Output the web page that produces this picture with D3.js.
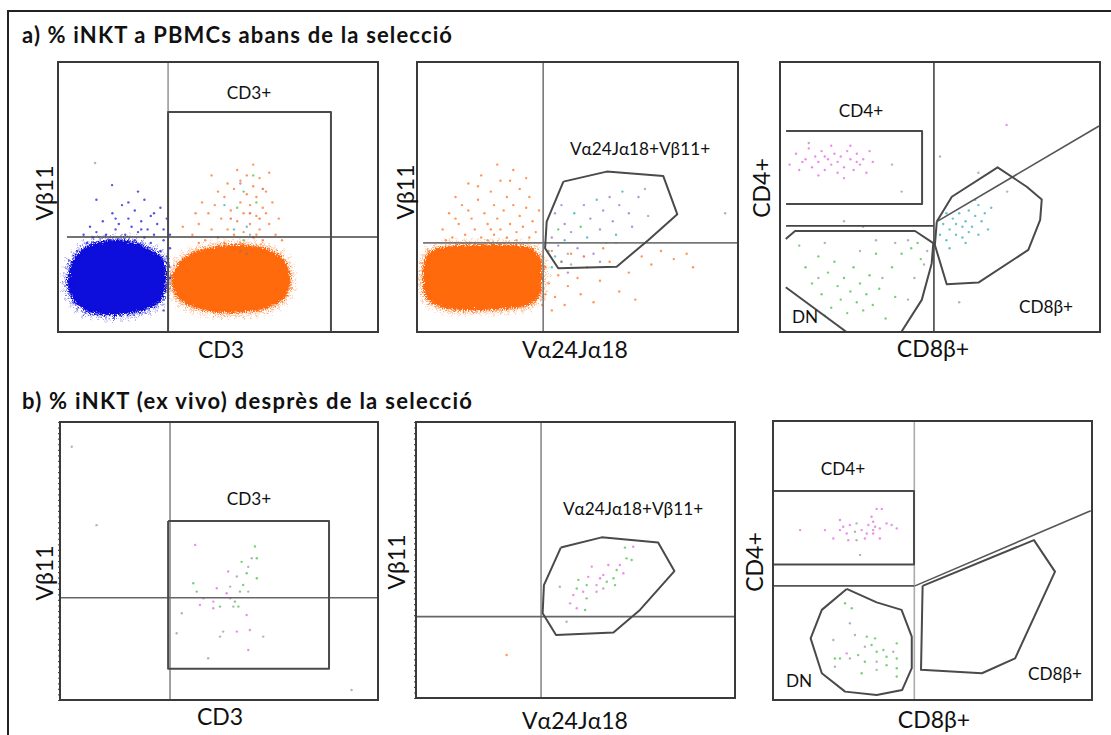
<!DOCTYPE html>
<html><head><meta charset="utf-8">
<script src="https://cdn.jsdelivr.net/npm/d3@7"></script>
<style>body{margin:0;background:#fff}svg{display:block}</style>
</head><body>
<svg id="fig" width="1111" height="735"></svg>
<script>
// ---- Section titles and axis labels ----
const sectionTitles = ["a) % iNKT a PBMCs abans de la selecció", "b) % iNKT (ex vivo) desprès de la selecció"];
const xLabels = ["CD3", "Vα24Jα18", "CD8β+"];
const yLabels = ["Vβ11", "Vβ11", "CD4+"];
const gateNames = ["CD3+", "Vα24Jα18+Vβ11+", "CD4+", "DN", "CD8β+"];

// Population colour keys: b blue, o orange, g green, r red, t teal, p purple, k grey, m magenta
const popKeys = ["b", "o", "g", "r", "t", "p", "k", "m"];
const popColors = ["#0b0bdc", "#ff6a10", "#3dbb3d", "#e0402a", "#2aa7b8", "#8a6cc8", "#777777", "#e35ee0"];

// All coordinates below are in channel units 0–100 on both axes.

// ---- a1: CD3 vs Vβ11 (PBMC) ----
const a1Lines = [[[34.4, 0], [34.4, 100]], [[2.8, 35.2], [100, 35.2]]];
const a1Gates = [[[34.4, 0], [34.4, 81.5], [85.3, 81.5], [85.3, 0]]];
const a1BlueCore = [[3.1,17.4],[4.4,25.9],[8.4,31.1],[13.1,33.3],[18.8,34.1],[24.1,33.0],[28.8,30.4],[32.5,27.4],[33.8,22.2],[33.4,15.6],[31.3,10.7],[25.6,7.8],[17.8,6.3],[10.0,7.4],[5.3,11.1]];
const a1OrangeCore = [[35.6,20.0],[38.1,25.9],[42.8,29.6],[49.1,31.5],[56.9,32.2],[63.8,31.1],[69.4,28.1],[71.9,23.7],[72.5,18.5],[70.9,13.0],[66.3,9.3],[58.4,7.4],[49.1,7.4],[41.3,9.6],[36.9,13.7]];
const a1Events = [
  [8,36,"b"],[10,39,"b"],[12,37,"b"],[14,41,"b"],[15,36,"b"],[17,44,"b"],[18,38,"b"],[19,40,"b"],[20,47,"b"],[21,36,"b"],
  [22,42,"b"],[23,39,"b"],[24,45,"b"],[25,37,"b"],[26,41,"b"],[27,49,"b"],[28,38,"b"],[29,43,"b"],[30,36,"b"],[31,40,"b"],
  [32,46,"b"],[33,38,"b"],[34,42,"b"],[16,34,"b"],[24,34,"b"],[29,33,"b"],[13,33,"b"],[9,33,"b"],[33,34,"b"],[20,33,"b"],
  [26,38,"b"],[18,42,"b"],[22,48,"b"],[11,35,"b"],[30,44,"b"],[27,35,"b"],[35,36,"b"],[35,31,"b"],[34.5,25,"b"],[35,20,"b"],
  [6,30,"b"],[34,28,"b"],[12,49,"b"],[25,52,"b"],[16.9,54.4,"b"],[11.6,62.6,"k"],[33,12,"b"],[34,17,"b"],[32,30,"b"],[33,8,"b"],
  [42,36,"o"],[44,40,"o"],[46,34,"o"],[47,44,"o"],[48,38,"o"],[49,47,"o"],[50,35,"o"],[51,42,"o"],[52,50,"o"],[53,38,"o"],
  [54,45,"o"],[55,36,"o"],[55,53,"o"],[56,41,"o"],[57,48,"o"],[57,56,"o"],[58,37,"o"],[58,44,"o"],[59,51,"o"],[59,58,"o"],
  [60,40,"o"],[60,47,"o"],[61,35,"o"],[61,54,"o"],[62,43,"o"],[62,50,"o"],[63,38,"o"],[63,57,"o"],[64,46,"o"],[64,34,"o"],
  [65,52,"o"],[66,40,"o"],[66,59,"o"],[67,48,"o"],[68,36,"o"],[53,55,"o"],[50,52,"o"],[45,48,"o"],[43,44,"o"],[56,60,"o"],
  [61,62,"o"],[48,58,"o"],[65,44,"o"],[69,42,"o"],[44,33,"o"],[39,39,"o"],[62,36,"o"],[57,33,"o"],[52,33,"o"],[70,34,"o"],
  [56,46,"g"],[58,52,"g"],[60,44,"r"],[59,39,"t"],[62,48,"g"],[54,42,"r"],[57,55,"p"],[61,58,"g"],[55,38,"t"],[63,42,"r"],
  [58,34,"g"],[60,36,"k"],[52,47,"t"],[64,53,"r"],[57,30,"k"],[59,29,"k"]
];

// ---- a2: Vα24Jα18 vs Vβ11 (PBMC) ----
const a2Lines = [[[39.3, 0], [39.3, 100]], [[1.9, 33.0], [100, 33.0]]];
const a2Gates = [[[45.6,55.7],[59.1,59.4],[76.7,57.8],[81.1,43.6],[72.1,34.1],[62.2,24.2],[44.0,23.6],[39.9,31.0],[40.4,40.9],[45.6,55.7]]];
const a2OrangeCore = [[2.2,24.8],[4.0,29.6],[8.7,31.5],[18.1,32.2],[29.0,32.2],[35.2,31.1],[38.3,27.4],[38.9,19.3],[37.7,12.6],[33.6,9.6],[25.9,8.5],[16.5,8.1],[8.7,8.9],[3.4,11.9],[1.9,17.4]];
const a2Events = [
  [8,38,"o"],[10,44,"o"],[11,35,"o"],[12,50,"o"],[13,40,"o"],[14,47,"o"],[15,36,"o"],[16,55,"o"],[17,42,"o"],[18,38,"o"],
  [19,49,"o"],[20,35,"o"],[20,58,"o"],[21,44,"o"],[22,40,"o"],[23,52,"o"],[24,36,"o"],[24,47,"o"],[25,42,"o"],[26,56,"o"],
  [26,38,"o"],[27,45,"o"],[28,50,"o"],[28,35,"o"],[29,40,"o"],[30,47,"o"],[30,60,"o"],[31,37,"o"],[32,43,"o"],[32,53,"o"],
  [33,39,"o"],[34,46,"o"],[35,35,"o"],[35,50,"o"],[36,41,"o"],[37,37,"o"],[22,34,"o"],[18,33,"o"],[14,33,"o"],[27,33,"o"],
  [31,34,"o"],[9,34,"o"],[25,62,"o"],[19,54,"o"],[29,56,"o"],[34,57,"o"],[12,42,"o"],[38,45,"o"],[16,45,"o"],[23,38,"o"],
  [39,28,"o"],[40,24,"o"],[41,18,"o"],[42,30,"o"],[43,13,"o"],[44,21,"o"],[45,26,"o"],[46,10,"o"],[47,17,"o"],[48,29,"o"],
  [50,20,"o"],[51,14,"o"],[53,24,"o"],[55,11,"o"],[57,19,"o"],[60,26,"o"],[63,15,"o"],[66,22,"o"],[70,28,"o"],[73,25,"o"],
  [76,30,"o"],[80,27,"o"],[84,29,"o"],[86,24,"o"],[40,14,"o"],[42,8,"o"],[39,10,"o"],[68,12,"o"],[58,31,"o"],[62,33,"o"],
  [41,30,"t"],[42,35,"p"],[43,28,"t"],[44,38,"g"],[44,32,"p"],[45,26,"t"],[46,40,"p"],[46,34,"t"],[47,29,"k"],[48,37,"p"],
  [49,44,"t"],[50,31,"p"],[51,39,"g"],[52,47,"p"],[53,35,"t"],[54,42,"p"],[55,29,"p"],[56,49,"t"],[57,38,"p"],[58,45,"p"],
  [59,33,"t"],[60,50,"p"],[61,41,"p"],[62,36,"t"],[63,47,"p"],[64,52,"t"],[66,44,"p"],[67,39,"p"],[69,50,"p"],[71,53,"k"],
  [72,43,"k"],[43,44,"p"],[42,24,"t"],[47,22,"p"],[48,25,"k"],[52,28,"r"],[57,26,"p"],[45,47,"p"],[96,44,"k"]
];

// ---- a3: CD8β vs CD4 (PBMC iNKT) ----
const a3Lines = [[[48.1, 0], [48.1, 100]], [[1.9, 39.3], [48.1, 39.3]], [[49.0, 40.9], [99.7, 76.3]]];
const a3Gates = [
  [[1.9,74.4],[44.4,74.4],[44.4,47.4],[1.9,47.4]],
  [[1.8,34.4],[4.7,37.4],[42.2,37.4],[47.9,32.9],[47.4,25.4],[44.3,11.9],[37.9,0]],
  [[1.8,16.6],[20.8,0]],
  [[49.0,40.9],[53.7,50.1],[68.0,61.0],[77.1,53.8],[81.8,49.1],[81.3,41.5],[77.6,30.4],[62.0,18.3],[52.1,17.7],[48.4,32.2],[49.0,40.9]]
];
const a3Events = [
  [3,62,"m"],[5,66,"m"],[6,60,"m"],[8,64,"m"],[9,68,"m"],[10,61,"m"],[11,65,"m"],[12,63,"m"],[13,67,"m"],[14,60,"m"],
  [15,64,"m"],[16,62,"m"],[17,66,"m"],[18,59,"m"],[18,63,"m"],[19,65,"m"],[20,61,"m"],[21,67,"m"],[22,64,"m"],[23,60,"m"],
  [24,66,"m"],[25,62,"m"],[26,64,"m"],[27,59,"m"],[28,67,"m"],[29,63,"m"],[12,58,"m"],[16,69,"m"],[22,69,"m"],[7,63,"m"],
  [20,57,"m"],[14,65,"m"],[24,63,"m"],[70.8,76.7,"m"],
  [50,36,"t"],[51,40,"t"],[52,34,"t"],[53,38,"t"],[54,42,"t"],[55,36,"t"],[55,40,"t"],[56,44,"t"],[57,35,"t"],[57,39,"t"],
  [58,41,"t"],[59,37,"t"],[59,45,"t"],[60,39,"t"],[61,43,"t"],[62,36,"t"],[62,47,"t"],[63,41,"t"],[64,44,"t"],[65,38,"t"],
  [66,46,"t"],[53,31,"t"],[58,33,"t"],[61,49,"t"],[52,44,"t"],
  [6,32,"g"],[8,24,"g"],[10,18,"g"],[12,28,"g"],[13,14,"g"],[15,22,"g"],[16,9,"g"],[17,26,"g"],[18,17,"g"],[19,12,"g"],
  [20,20,"g"],[21,7,"g"],[22,15,"g"],[23,24,"g"],[24,11,"g"],[25,18,"g"],[26,8,"g"],[27,14,"g"],[28,21,"g"],[29,10,"g"],
  [31,16,"g"],[33,5,"g"],[35,24,"g"],[38,29,"g"],[41,31,"g"],[44,27,"g"],[43,33,"g"],[36,13,"g"],[30,29,"g"],[14,6,"g"],
  [9,70,"k"],[35,62,"k"],[38,52,"k"],[20,41,"k"],[26,39,"k"],[14,33,"k"],[30,34,"k"],[40,34,"k"],[62,59,"k"],[71,52,"k"],
  [50,65,"k"],[56,11,"k"],[25,30,"k"],[32,20,"k"],[40,12,"k"],[45,25,"k"],[12,20,"k"],[36,33,"k"],[42,20,"k"],[46,30,"k"]
];

// ---- b1: CD3 vs Vβ11 (sorted) ----
const b1Lines = [[[34.6, 0], [34.6, 100]], [[0, 36.8], [100, 36.8]]];
const b1Gates = [[[34.0,64.4],[84.6,64.4],[84.6,11.2],[34.0,11.2],[34.0,64.4]]];
const b1Events = [
  [61.3,55.2,"g"],[60.3,51.0,"k"],[61.9,51.0,"g"],[57.1,49.7,"g"],[59.2,47.9,"k"],[61.9,43.8,"g"],[52.9,46.2,"m"],[55.6,44.4,"k"],
  [58.7,45.6,"g"],[41.9,42.0,"g"],[43.0,39.0,"g"],[49.3,40.2,"m"],[53.5,40.8,"k"],[57.6,41.4,"g"],[56.6,39.0,"g"],[59.2,39.0,"k"],
  [45.1,36.6,"k"],[48.2,33.0,"m"],[50.3,33.6,"g"],[53.5,36.6,"m"],[54.5,33.6,"k"],[56.1,33.6,"g"],[44.0,34.2,"m"],[38.3,31.2,"k"],
  [58.7,30.6,"m"],[51.3,24.6,"k"],[50.3,22.8,"k"],[55.6,24.6,"m"],[59.7,25.2,"m"],[63.9,22.8,"k"],[59.2,18.0,"m"],[46.6,15.0,"k"],
  [42.5,55.8,"m"],[36.7,24.0,"k"],[48.2,35.4,"m"],[52.4,38.4,"m"],[55.0,35.4,"g"],
  [11.5,62.9,"k"],[3.7,91.1,"k"],[91.7,3.6,"k"]
];

// ---- b2: Vα24Jα18 vs Vβ11 (sorted) ----
const b2Lines = [[[39.2, 0], [39.2, 100]], [[0, 29.5], [100, 29.5]]];
const b2Gates = [[[45.4,54.5],[58.2,58.2],[75.9,56.3],[81.0,46.0],[70.2,31.9],[61.9,23.7],[43.9,22.8],[39.7,30.7],[40.1,40.9],[45.4,54.5]]];
const b2Events = [
  [65.5,54.5,"g"],[68.1,54.8,"m"],[66.0,50.6,"g"],[63.9,48.2,"m"],[67.6,50.0,"g"],[62.9,46.4,"g"],[60.3,48.2,"m"],[65.0,45.2,"m"],
  [58.7,44.6,"m"],[61.9,43.4,"g"],[62.4,40.9,"g"],[57.7,43.4,"m"],[55.1,47.6,"m"],[54.0,43.9,"m"],[56.6,40.9,"m"],[53.5,40.9,"g"],
  [50.9,42.8,"g"],[50.4,39.7,"g"],[52.4,38.5,"m"],[49.3,37.3,"m"],[53.5,36.1,"g"],[45.1,40.3,"k"],[48.3,34.3,"m"],[53.0,31.9,"g"],
  [50.4,32.5,"m"],[47.2,27.6,"k"],[56.6,38.5,"m"],[59.8,42.1,"g"],[58.7,39.7,"k"],[28.4,15.6,"o"]
];

// ---- b3: CD8β vs CD4 (sorted) ----
const b3Lines = [[[44.3, 0], [44.3, 100]], [[0, 40.9], [44.3, 40.9]], [[44.5, 40.9], [99.6, 67.8]]];
const b3Gates = [
  [[0,74.9],[44.2,74.9],[44.2,48.6],[0,48.6],[0,74.9]],
  [[46.9,40.9],[81.8,57.3],[88.4,46.0],[75.9,14.9],[65.5,9.6],[46.4,10.8],[46.9,40.9]],
  [[23.1,39.8],[32.5,35.0],[40.3,32.3],[43.5,22.7],[43.5,11.4],[40.5,3.6],[32.5,1.8],[22.6,3.0],[15.3,9.6],[11.8,22.1],[15.3,32.3],[23.1,39.8]]
];
const b3Events = [
  [32.5,68.5,"m"],[34.1,68.5,"m"],[30.9,65.7,"m"],[31.4,63.9,"m"],[29.9,62.7,"m"],[32.0,62.1,"m"],[26.2,63.3,"k"],[24.1,62.7,"m"],
  [22.0,62.1,"m"],[21.0,60.9,"m"],[23.1,59.7,"m"],[25.7,60.3,"k"],[27.8,60.9,"m"],[29.4,59.7,"m"],[31.4,59.7,"m"],[33.5,61.5,"m"],
  [35.6,63.3,"m"],[37.2,62.7,"m"],[38.8,61.5,"m"],[33.5,57.9,"m"],[26.2,57.3,"k"],[23.6,57.3,"m"],[18.9,57.9,"m"],[16.3,60.9,"m"],
  [8.5,60.9,"m"],[27.3,52.0,"k"],[28.8,57.9,"m"],[31.4,60.9,"m"],[21.0,64.5,"m"],
  [22.6,34.7,"g"],[24.7,32.9,"g"],[24.1,27.5,"k"],[25.7,23.3,"k"],[29.4,22.7,"g"],[32.0,22.1,"g"],[30.9,19.7,"g"],[28.8,19.1,"k"],
  [32.5,17.3,"g"],[34.6,17.9,"g"],[38.8,20.3,"g"],[37.7,17.3,"k"],[35.6,15.5,"g"],[38.8,14.9,"g"],[18.9,21.5,"k"],[19.4,14.9,"g"],
  [21.0,14.9,"g"],[24.1,14.9,"k"],[26.7,16.1,"g"],[28.8,13.7,"g"],[32.5,13.7,"k"],[35.6,12.5,"g"],[38.8,11.4,"g"],[19.4,11.9,"k"],
  [27.8,9.6,"g"],[32.5,10.8,"k"],[38.8,8.4,"g"],[23.1,16.7,"m"]
];

// ---- drawing ----
const svg = d3.select("#fig");
const popColor = d3.scaleOrdinal(popKeys, popColors);
const font = "Lato, 'Open Sans', sans-serif";

const defs = svg.append("defs");
const grain = defs.append("filter").attr("id", "grain")
  .attr("x", "-10%").attr("y", "-10%").attr("width", "120%").attr("height", "120%");
grain.append("feTurbulence").attr("type", "fractalNoise").attr("baseFrequency", 0.9)
  .attr("numOctaves", 2).attr("seed", 3).attr("result", "noise");
grain.append("feDisplacementMap").attr("in", "SourceGraphic").attr("in2", "noise")
  .attr("scale", 8).attr("xChannelSelector", "R").attr("yChannelSelector", "G");

// outer figure border (open to the right and bottom)
svg.append("path").attr("d", "M8,735 V11 H1111")
  .attr("fill", "none").attr("stroke", "#222").attr("stroke-width", 2);

// section titles
const titleWidths = [430, 450];
svg.selectAll("text.section").data(sectionTitles).join("text")
  .attr("class", "section")
  .attr("x", 22).attr("y", (d, i) => i === 0 ? 43 : 409)
  .attr("font-family", font).attr("font-weight", 700).attr("font-size", 22)
  .attr("textLength", (d, i) => titleWidths[i]).attr("lengthAdjust", "spacing")
  .attr("fill", "#111").text(d => d);

function panel(cfg) {
  const { id, box, lines, gates, events, cores, lineColors, xl, yl, labels, ticks } = cfg;
  const x = d3.scaleLinear([0, 100], [box.x0, box.x1]);
  const y = d3.scaleLinear([0, 100], [box.y1, box.y0]);
  const line = d3.line().x(d => x(d[0])).y(d => y(d[1]));
  const g = svg.append("g").attr("id", id);

  defs.append("clipPath").attr("id", "clip-" + id)
    .append("rect").attr("x", box.x0).attr("y", box.y0)
    .attr("width", box.x1 - box.x0).attr("height", box.y1 - box.y0);
  const plot = g.append("g").attr("clip-path", `url(#clip-${id})`);

  // dense populations as filled density cores with a grainy rim
  (cores || []).forEach(c => {
    const cg = plot.append("g").attr("filter", "url(#grain)");
    const shape = d3.line().x(d => x(d[0])).y(d => y(d[1])).curve(d3.curveCardinalClosed.tension(0.2));
    cg.append("path").attr("d", shape(c.pts))
      .attr("fill", popColor(c.pop)).attr("stroke", popColor(c.pop))
      .attr("stroke-width", 3).attr("stroke-dasharray", "1.4 1.6").attr("stroke-opacity", 0.8);
    cg.append("path").attr("d", shape(c.pts))
      .attr("fill", "none").attr("stroke", popColor(c.pop))
      .attr("stroke-width", 9).attr("stroke-dasharray", "1 3").attr("stroke-opacity", 0.5);
    cg.append("path").attr("d", shape(c.pts))
      .attr("fill", "none").attr("stroke", popColor(c.pop))
      .attr("stroke-width", 16).attr("stroke-dasharray", "1 6").attr("stroke-opacity", 0.3);
  });

  // individual events
  plot.selectAll("circle.ev").data(events).join("circle")
    .attr("class", "ev")
    .attr("cx", d => x(d[0])).attr("cy", d => y(d[1]))
    .attr("r", 1.2)
    .attr("fill", d => popColor(d[2]))
    .attr("fill-opacity", d => d[2] === "k" ? 0.55 : 0.7);

  // quadrant dividers
  plot.selectAll("path.quad").data(lines).join("path")
    .attr("class", "quad").attr("d", line)
    .attr("fill", "none")
    .attr("stroke", (d, i) => lineColors[i])
    .attr("stroke-width", 1.6);

  // gates
  plot.selectAll("path.gate").data(gates).join("path")
    .attr("class", "gate").attr("d", line)
    .attr("fill", "none").attr("stroke", "#4a4a4a")
    .attr("stroke-width", 2).attr("stroke-linejoin", "round");

  // dense tick marks on left edge
  if (ticks) {
    g.append("g").attr("transform", `translate(${box.x0},0)`)
      .call(d3.axisLeft(y).ticks(60).tickSize(2).tickFormat(""))
      .call(s => s.select(".domain").remove())
      .call(s => s.selectAll("line").attr("stroke", "#555").attr("stroke-width", 1.2));
  }

  // plot frame
  g.append("rect").attr("x", box.x0).attr("y", box.y0)
    .attr("width", box.x1 - box.x0).attr("height", box.y1 - box.y0)
    .attr("fill", "none").attr("stroke", "#3a3a3a").attr("stroke-width", 2);

  // axis titles
  g.append("text").attr("x", xl.x).attr("y", xl.y).attr("text-anchor", "middle")
    .attr("font-family", font).attr("font-size", 23).attr("fill", "#111").text(xl.t);
  g.append("text").attr("transform", `translate(${yl.x},${yl.y}) rotate(-90)`)
    .attr("text-anchor", "middle")
    .attr("font-family", font).attr("font-size", 23).attr("fill", "#111").text(yl.t);

  // gate names
  g.selectAll("text.gname").data(labels).join("text")
    .attr("class", "gname")
    .attr("x", d => d.x).attr("y", d => d.y).attr("text-anchor", "middle")
    .attr("font-family", font).attr("font-size", 17.2).attr("fill", "#111")
    .text(d => d.t);
}

panel({ id: "a1", box: { x0: 58, x1: 378, y0: 62, y1: 332 }, lines: a1Lines, gates: a1Gates, events: a1Events,
  cores: [{ pts: a1BlueCore, pop: "b" }, { pts: a1OrangeCore, pop: "o" }], lineColors: ["#9a9a9a", "#444"],
  xl: { x: 221, y: 358, t: xLabels[0] }, yl: { x: 53, y: 193, t: yLabels[0] },
  labels: [{ x: 249, y: 99, t: gateNames[0] }] });

panel({ id: "a2", box: { x0: 417, x1: 738, y0: 62, y1: 332 }, lines: a2Lines, gates: a2Gates, events: a2Events,
  cores: [{ pts: a2OrangeCore, pop: "o" }], lineColors: ["#777", "#777"],
  xl: { x: 575, y: 358, t: xLabels[1] }, yl: { x: 414, y: 192, t: yLabels[1] },
  labels: [{ x: 640, y: 155, t: gateNames[1] }] });

panel({ id: "a3", box: { x0: 780, x1: 1100, y0: 62, y1: 332 }, lines: a3Lines, gates: a3Gates, events: a3Events,
  lineColors: ["#444", "#444", "#555"],
  xl: { x: 933, y: 357, t: xLabels[2] }, yl: { x: 770, y: 188, t: yLabels[2] },
  labels: [{ x: 861, y: 117, t: gateNames[2] }, { x: 805, y: 323, t: gateNames[3] }, { x: 1046, y: 313, t: gateNames[4] }] });

panel({ id: "b1", box: { x0: 60, x1: 378, y0: 422, y1: 700 }, lines: b1Lines, gates: b1Gates, events: b1Events,
  lineColors: ["#8a8a8a", "#666"], ticks: true,
  xl: { x: 220, y: 725, t: xLabels[0] }, yl: { x: 53, y: 573, t: yLabels[0] },
  labels: [{ x: 249, y: 505, t: gateNames[0] }] });

panel({ id: "b2", box: { x0: 416, x1: 735, y0: 422, y1: 698 }, lines: b2Lines, gates: b2Gates, events: b2Events,
  lineColors: ["#8a8a8a", "#666"], ticks: true,
  xl: { x: 575, y: 729, t: xLabels[1] }, yl: { x: 405, y: 562, t: yLabels[1] },
  labels: [{ x: 633, y: 515, t: gateNames[1] }] });

panel({ id: "b3", box: { x0: 773, x1: 1092, y0: 421, y1: 700 }, lines: b3Lines, gates: b3Gates, events: b3Events,
  lineColors: ["#aaa", "#555", "#555"],
  xl: { x: 934, y: 728, t: xLabels[2] }, yl: { x: 763, y: 562, t: yLabels[2] },
  labels: [{ x: 843, y: 475, t: gateNames[2] }, { x: 799, y: 687, t: gateNames[3] }, { x: 1055, y: 680, t: gateNames[4] }] });
</script>
</body></html>
